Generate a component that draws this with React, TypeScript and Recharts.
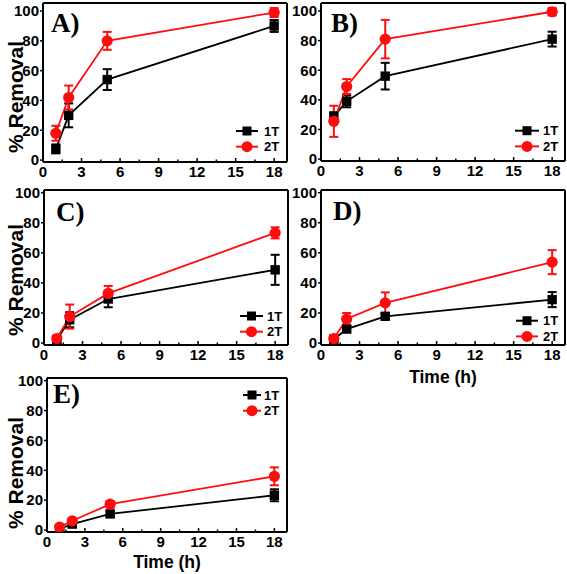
import React from 'react';
import { LineChart, Line, XAxis, YAxis, ErrorBar, Label, ReferenceLine } from 'recharts';

// ---------- data ----------
const times = [1, 2, 5, 18];
const xTicks = [0, 1.5, 3, 4.5, 6, 7.5, 9, 10.5, 12, 13.5, 15, 16.5, 18];
const yTicks = [0, 20, 40, 60, 80, 100];
const seriesNames = ['1T', '2T'];
const panelLetters = ['A)', 'B)', 'C)', 'D)', 'E)'];
const yTitle = '% Removal';
const xTitle = 'Time (h)';

const A_1T = [7.5, 30, 54, 90];
const A_1T_err = [3, 8, 7, 4];
const A_2T = [18, 42, 80, 99];
const A_2T_err = [5, 8, 6, 3];

const B_1T = [29, 39, 56, 81];
const B_1T_err = [2.5, 4, 9, 5];
const B_2T = [25.5, 49, 81, 99.5];
const B_2T_err = [10.5, 5, 13, 2.5];

const C_1T = [2.2, 15.5, 29.3, 48.7];
const C_1T_err = [1.5, 5, 5.5, 10];
const C_2T = [3, 17.6, 33, 73.3];
const C_2T_err = [2, 8, 5, 3.7];

const D_1T = [2.5, 9.3, 17.8, 28.9];
const D_1T_err = [2, 2, 2, 5];
const D_2T = [3, 16, 26.7, 53.8];
const D_2T_err = [2, 4, 7, 8];

const E_1T = [0.8, 4, 10.8, 23.3];
const E_1T_err = [1, 1.5, 2, 4];
const E_2T = [2, 6.2, 17.3, 36];
const E_2T_err = [1.5, 1.5, 2, 6];

const build = (s1: number[], e1: number[], s2: number[], e2: number[]) =>
  times.map((t, i) => ({ t, s1: s1[i], e1: e1[i], s2: s2[i], e2: e2[i] }));

// ---------- styles / layout ----------
const BLACK = '#000000';
const RED = '#ff0d0d';
const SANS = '"Liberation Sans", Arial, sans-serif';
const SERIF = '"Liberation Serif", "Times New Roman", serif';
const X_MAX = 19;

type Panel = {
  letter: string;
  data: any[];
  left: number; top: number;
  yAxisW: number; mTop: number; plotW: number; plotH: number; xAxisH: number;
  yDomain: [number, number];
  yLabelY?: number;
  xLabel?: [number, number];
  letterPos: [number, number];
  legend: { y: number; lx1: number; lx2: number; tx: number };
};

const panels: Panel[] = [
  {
    letter: panelLetters[0], data: build(A_1T, A_1T_err, A_2T, A_2T_err),
    left: 0, top: 0, yAxisW: 43, mTop: 3, plotW: 244, plotH: 159, xAxisH: 24,
    yDomain: [-1.3, 105.4], yLabelY: 97, letterPos: [51, 31.5],
    legend: { y: 131, lx1: 236, lx2: 258, tx: 264 },
  },
  {
    letter: panelLetters[1], data: build(B_1T, B_1T_err, B_2T, B_2T_err),
    left: 290, top: 0, yAxisW: 31, mTop: 3, plotW: 244, plotH: 158, xAxisH: 24,
    yDomain: [-1.3, 105.4], letterPos: [331, 32.3],
    legend: { y: 130.7, lx1: 515, lx2: 539, tx: 543 },
  },
  {
    letter: panelLetters[2], data: build(C_1T, C_1T_err, C_2T, C_2T_err),
    left: 0, top: 185, yAxisW: 44, mTop: 5, plotW: 244, plotH: 155, xAxisH: 24,
    yDomain: [-1.3, 101.8], yLabelY: 280, letterPos: [56, 221],
    legend: { y: 316, lx1: 240, lx2: 263, tx: 267 },
  },
  {
    letter: panelLetters[3], data: build(D_1T, D_1T_err, D_2T, D_2T_err),
    left: 290, top: 185, yAxisW: 31, mTop: 5, plotW: 244, plotH: 155, xAxisH: 50,
    yDomain: [-1.3, 101.8], xLabel: [443, 377], letterPos: [333, 220],
    legend: { y: 320.7, lx1: 516, lx2: 538, tx: 543 },
  },
  {
    letter: panelLetters[4], data: build(E_1T, E_1T_err, E_2T, E_2T_err),
    left: 0, top: 373, yAxisW: 47, mTop: 5, plotW: 240, plotH: 154, xAxisH: 50,
    yDomain: [-1.3, 101.8], yLabelY: 473, xLabel: [167, 562], letterPos: [53, 403],
    legend: { y: 395, lx1: 243, lx2: 261, tx: 264 },
  },
];

const squareDot = (props: any) => {
  const { cx, cy, index } = props;
  if (cx == null || cy == null) return <g key={`sq${index}`} />;
  return <rect key={`sq${index}`} x={cx - 4.7} y={cy - 4.7} width={9.4} height={9.4} fill={BLACK} />;
};
const circleDot = (props: any) => {
  const { cx, cy, index } = props;
  if (cx == null || cy == null) return <g key={`ci${index}`} />;
  return <circle key={`ci${index}`} cx={cx} cy={cy} r={5.6} fill={RED} />;
};

const XTick = (props: any) => {
  const { x, y, payload } = props;
  const v = payload.value;
  const major = Math.abs(v % 3) < 1e-6;
  return (
    <g>
      <line x1={x} x2={x} y1={y} y2={y - (major ? 4 : 2.5)} stroke={BLACK} strokeWidth={1.5} />
      {major && (
        <text x={x} y={y + 15} textAnchor="middle" fontFamily={SANS} fontWeight="bold" fontSize={15} fill={BLACK}>
          {v}
        </text>
      )}
    </g>
  );
};

const YTick = (props: any) => {
  const { x, y, payload } = props;
  return (
    <text x={x} y={y} dy={5.3} textAnchor="end" fontFamily={SANS} fontWeight="bold" fontSize={15} fill={BLACK}>
      {payload.value}
    </text>
  );
};

const PanelChart = ({ p }: { p: Panel }) => {
  const width = p.yAxisW + p.plotW + 4;
  const height = p.mTop + p.plotH + p.xAxisH;
  const ox = p.left;
  const oy = p.top;
  const lg = p.legend;

  const overlay = () => (
    <g>
      <text x={p.letterPos[0] - ox} y={p.letterPos[1] - oy} fontFamily={SERIF} fontWeight="bold" fontSize={27} fill={BLACK}>
        {p.letter}
      </text>
      {seriesNames.map((name, i) => {
        const cy = lg.y - oy + i * 15.7;
        const x1 = lg.lx1 - ox;
        const x2 = lg.lx2 - ox;
        const mx = (x1 + x2) / 2;
        const col = i === 0 ? BLACK : RED;
        return (
          <g key={name}>
            <line x1={x1} x2={x2} y1={cy} y2={cy} stroke={col} strokeWidth={2} />
            {i === 0 ? (
              <rect x={mx - 4.5} y={cy - 4.5} width={9} height={9} fill={BLACK} />
            ) : (
              <circle cx={mx} cy={cy} r={5.5} fill={RED} />
            )}
            <text x={lg.tx - ox} y={cy} dy={4.7} fontFamily={SANS} fontWeight="bold" fontSize={13} fill={BLACK}>
              {name}
            </text>
          </g>
        );
      })}
    </g>
  );

  return (
    <div style={{ position: 'absolute', left: p.left, top: p.top, width, height }}>
      <LineChart width={width} height={height} data={p.data} margin={{ top: p.mTop, right: 4, bottom: 0, left: 0 }}>
        <XAxis
          dataKey="t" type="number" domain={[0, X_MAX]} ticks={xTicks} interval={0}
          allowDataOverflow height={p.xAxisH} tickSize={0} tickMargin={0} tickLine={false}
          tick={<XTick />} axisLine={{ stroke: BLACK, strokeWidth: 2 }}
        >
          {p.xLabel && (
            <Label
              content={() => (
                <text x={p.xLabel![0] - ox} y={p.xLabel![1] - oy} dy={6} textAnchor="middle" fontFamily={SANS} fontWeight="bold" fontSize={17.5} fill={BLACK}>
                  {xTitle}
                </text>
              )}
            />
          )}
          <Label content={overlay} />
        </XAxis>
        <YAxis
          type="number" domain={p.yDomain} ticks={yTicks} interval={0} allowDataOverflow
          width={p.yAxisW} tickSize={3} tickMargin={1} tickLine={{ stroke: BLACK, strokeWidth: 1.5 }}
          tick={<YTick />} axisLine={{ stroke: BLACK, strokeWidth: 2 }}
        >
          {p.yLabelY !== undefined && (
            <Label
              content={() => (
                <text
                  x={15} y={p.yLabelY! - oy} textAnchor="middle" dominantBaseline="central"
                  transform={`rotate(-90 15 ${p.yLabelY! - oy})`}
                  fontFamily={SANS} fontWeight="bold" fontSize={21} fill={BLACK}
                >
                  {yTitle}
                </text>
              )}
            />
          )}
        </YAxis>
        <ReferenceLine y={p.yDomain[1]} stroke={BLACK} strokeWidth={2} ifOverflow="visible" />
        <ReferenceLine x={X_MAX} stroke={BLACK} strokeWidth={2} ifOverflow="visible" />
        <Line
          dataKey="s1" name={seriesNames[0]} stroke={BLACK} strokeWidth={1.8} type="linear"
          dot={squareDot} activeDot={false} isAnimationActive={false}
        >
          <ErrorBar dataKey="e1" direction="y" width={4.5} strokeWidth={2} stroke={BLACK} />
        </Line>
        <Line
          dataKey="s2" name={seriesNames[1]} stroke={RED} strokeWidth={1.8} type="linear"
          dot={circleDot} activeDot={false} isAnimationActive={false}
        >
          <ErrorBar dataKey="e2" direction="y" width={4.5} strokeWidth={2} stroke={RED} />
        </Line>
      </LineChart>
    </div>
  );
}

export default function App() {
  return (
    <div style={{ position: 'absolute', left: 0, top: 0, width: 567, height: 574, background: '#fff', overflow: 'hidden' }}>
      {panels.map((p) => (
        <PanelChart key={p.letter} p={p} />
      ))}
    </div>
  );
}
